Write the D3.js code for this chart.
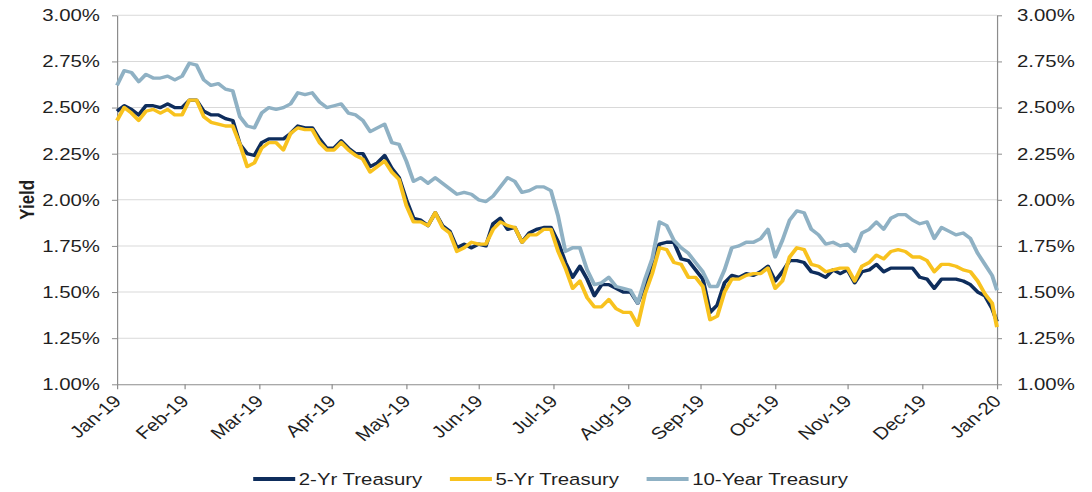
<!DOCTYPE html>
<html>
<head>
<meta charset="utf-8">
<script src="https://cdn.jsdelivr.net/npm/d3@7"></script>
<style>
  body { margin: 0; background: #fff; }
  text { font-family: "Liberation Sans", Arial, sans-serif; fill: #1f1f1f; }
</style>
</head>
<body>
<div id="chart"></div>
<script>
// sampled every few days from the picture
var dates = [
  "2019-01-31","2019-02-03","2019-02-06","2019-02-09","2019-02-12","2019-02-15","2019-02-18","2019-02-21","2019-02-24","2019-02-27",
  "2019-03-02","2019-03-05","2019-03-08","2019-03-11","2019-03-14","2019-03-17","2019-03-20","2019-03-23","2019-03-26","2019-03-29",
  "2019-04-01","2019-04-04","2019-04-07","2019-04-10","2019-04-13","2019-04-16","2019-04-19","2019-04-22","2019-04-25","2019-04-28",
  "2019-05-01","2019-05-04","2019-05-07","2019-05-10","2019-05-13","2019-05-16","2019-05-19","2019-05-22","2019-05-25","2019-05-28",
  "2019-05-31","2019-06-03","2019-06-06","2019-06-09","2019-06-12","2019-06-15","2019-06-18","2019-06-21","2019-06-24","2019-06-27",
  "2019-06-30","2019-07-03","2019-07-06","2019-07-09","2019-07-12","2019-07-15","2019-07-18","2019-07-21","2019-07-24","2019-07-27",
  "2019-07-30","2019-08-02","2019-08-05","2019-08-08","2019-08-11","2019-08-14","2019-08-17","2019-08-20","2019-08-23","2019-08-26",
  "2019-08-29","2019-09-01","2019-09-04","2019-09-07","2019-09-10","2019-09-13","2019-09-16","2019-09-19","2019-09-22","2019-09-25",
  "2019-09-28","2019-10-01","2019-10-04","2019-10-07","2019-10-10","2019-10-13","2019-10-16","2019-10-19","2019-10-22","2019-10-25",
  "2019-10-28","2019-10-31","2019-11-03","2019-11-06","2019-11-09","2019-11-12","2019-11-15","2019-11-18","2019-11-21","2019-11-24",
  "2019-11-27","2019-11-30","2019-12-03","2019-12-06","2019-12-09","2019-12-12","2019-12-15","2019-12-18","2019-12-21","2019-12-24",
  "2019-12-27","2019-12-30","2020-01-02","2020-01-05","2020-01-08","2020-01-11","2020-01-14","2020-01-17","2020-01-20","2020-01-23",
  "2020-01-26","2020-01-29","2020-01-31"
];

var twoYr = [
  2.48, 2.51, 2.49, 2.46, 2.51, 2.51, 2.50, 2.52, 2.50, 2.50,
  2.54, 2.54, 2.48, 2.46, 2.46, 2.44, 2.43, 2.30, 2.25, 2.24,
  2.31, 2.33, 2.33, 2.33, 2.36, 2.40, 2.39, 2.39, 2.33, 2.28,
  2.28, 2.32, 2.28, 2.25, 2.25, 2.18, 2.20, 2.24, 2.17, 2.12,
  2.00, 1.90, 1.89, 1.86, 1.93, 1.86, 1.83, 1.74, 1.76, 1.74,
  1.76, 1.75, 1.87, 1.90, 1.84, 1.85, 1.77, 1.82, 1.84, 1.85,
  1.85, 1.77, 1.66, 1.58, 1.64, 1.57, 1.48, 1.54, 1.54, 1.52,
  1.50, 1.50, 1.44, 1.54, 1.65, 1.76, 1.77, 1.77, 1.68, 1.67,
  1.62, 1.57, 1.39, 1.43, 1.55, 1.59, 1.58, 1.60, 1.59, 1.61,
  1.64, 1.56, 1.61, 1.67, 1.67, 1.66, 1.61, 1.60, 1.58, 1.62,
  1.60, 1.62, 1.55, 1.61, 1.62, 1.65, 1.61, 1.63, 1.63, 1.63,
  1.63, 1.58, 1.57, 1.52, 1.57, 1.57, 1.57, 1.56, 1.54, 1.50,
  1.48, 1.41, 1.34
];

var fiveYr = [
  2.43, 2.50, 2.47, 2.43, 2.48, 2.49, 2.47, 2.49, 2.46, 2.46,
  2.54, 2.54, 2.45, 2.42, 2.41, 2.40, 2.40, 2.30, 2.18, 2.20,
  2.28, 2.31, 2.31, 2.27, 2.36, 2.39, 2.38, 2.38, 2.31, 2.27,
  2.27, 2.31, 2.27, 2.24, 2.22, 2.15, 2.18, 2.21, 2.15, 2.11,
  1.97, 1.88, 1.88, 1.86, 1.93, 1.85, 1.82, 1.72, 1.74, 1.77,
  1.76, 1.76, 1.84, 1.88, 1.86, 1.85, 1.77, 1.81, 1.81, 1.84,
  1.84, 1.72, 1.63, 1.52, 1.56, 1.47, 1.42, 1.42, 1.46, 1.41,
  1.39, 1.39, 1.32, 1.49, 1.60, 1.74, 1.73, 1.66, 1.65, 1.58,
  1.58, 1.53, 1.35, 1.37, 1.50, 1.57, 1.57, 1.59, 1.60, 1.60,
  1.63, 1.52, 1.56, 1.69, 1.74, 1.73, 1.65, 1.64, 1.61, 1.62,
  1.63, 1.63, 1.56, 1.64, 1.66, 1.70, 1.68, 1.72, 1.73, 1.72,
  1.69, 1.69, 1.67, 1.61, 1.65, 1.65, 1.64, 1.62, 1.61, 1.56,
  1.49, 1.44, 1.31
];

var tenYr = [
  2.62, 2.70, 2.69, 2.64, 2.68, 2.66, 2.66, 2.67, 2.65, 2.67,
  2.74, 2.73, 2.65, 2.62, 2.63, 2.60, 2.59, 2.45, 2.40, 2.39,
  2.47, 2.50, 2.49, 2.50, 2.52, 2.58, 2.57, 2.58, 2.53, 2.50,
  2.51, 2.52, 2.47, 2.46, 2.43, 2.37, 2.39, 2.41, 2.31, 2.30,
  2.21, 2.10, 2.12, 2.09, 2.12, 2.09, 2.06, 2.03, 2.04, 2.03,
  2.00, 1.99, 2.02, 2.07, 2.12, 2.10, 2.04, 2.05, 2.07, 2.07,
  2.05, 1.91, 1.72, 1.74, 1.74, 1.62, 1.54, 1.55, 1.58, 1.53,
  1.52, 1.51, 1.44, 1.57, 1.68, 1.88, 1.86, 1.78, 1.74, 1.71,
  1.66, 1.61, 1.53, 1.53, 1.62, 1.74, 1.75, 1.77, 1.77, 1.79,
  1.84, 1.69, 1.78, 1.89, 1.94, 1.93, 1.84, 1.81, 1.76, 1.77,
  1.75, 1.76, 1.72, 1.82, 1.84, 1.88, 1.84, 1.90, 1.92, 1.92,
  1.89, 1.87, 1.88, 1.79, 1.85, 1.83, 1.81, 1.82, 1.79, 1.71,
  1.65, 1.59, 1.51
];

var seriesNames = ["2-Yr Treasury", "5-Yr Treasury", "10-Year Treasury"];
var seriesColors = ["#0e2d5c", "#f8c21e", "#8fb1c4"];
var yTicks = [1.00, 1.25, 1.50, 1.75, 2.00, 2.25, 2.50, 2.75, 3.00];
var xStart = "2019-01-31", xEnd = "2020-01-31";

// the reference picture is stretched sideways, so draw narrow and scale x
var stretch = 1.2;
var width = 1092 / stretch;
var height = 492;
var margin = { top: 15.3, right: 79.2, bottom: 107.7, left: 97.5 };
var fontSize = "17px";

var parseDate = d3.timeParse("%Y-%m-%d");

var svg = d3.select("#chart")
    .append("svg")
    .attr("width", 1092)
    .attr("height", height);

var g = svg.append("g")
    .attr("transform", "scale(" + stretch + ",1)");

var x = d3.scaleTime()
    .domain([parseDate(xStart), parseDate(xEnd)])
    .range([margin.left, width - margin.right]);

var y = d3.scaleLinear()
    .domain([1, 3])
    .range([height - margin.bottom, margin.top]);

// ticks sit on month ends
var monthEnds = d3.timeMonth.range(d3.timeDay.offset(parseDate(xStart), 1), d3.timeDay.offset(parseDate(xEnd), 2))
    .map(function(d) { return d3.timeDay.offset(d, -1); });

// gridlines
g.append("g")
    .selectAll("line")
    .data(yTicks.slice(1))
    .enter().append("line")
    .attr("x1", x.range()[0])
    .attr("x2", x.range()[1])
    .attr("y1", function(d) { return y(d); })
    .attr("y2", function(d) { return y(d); })
    .attr("stroke", "#d9d9d9")
    .attr("stroke-width", 1);

var pctFormat = function(d) { return d3.format(".2%")(d / 100); };

function styleAxis(sel) {
    sel.selectAll(".domain").attr("stroke", "#8c8c8c");
    sel.selectAll(".tick line").attr("stroke", "#8c8c8c");
    sel.selectAll("text")
        .style("font-family", '"Liberation Sans", Arial, sans-serif')
        .style("font-size", fontSize)
        .attr("fill", "#1f1f1f");
}

var leftAxis = g.append("g")
    .attr("transform", "translate(" + x.range()[0] + ",0)")
    .call(d3.axisLeft(y).tickValues(yTicks).tickFormat(pctFormat)
        .tickSize(4.2).tickSizeOuter(0).tickPadding(10));
styleAxis(leftAxis);

var rightAxis = g.append("g")
    .attr("transform", "translate(" + x.range()[1] + ",0)")
    .call(d3.axisRight(y).tickValues(yTicks).tickFormat(pctFormat)
        .tickSize(4.2).tickSizeOuter(0).tickPadding(12.5));
styleAxis(rightAxis);

var bottomAxis = g.append("g")
    .attr("transform", "translate(0," + y(1) + ")")
    .call(d3.axisBottom(x).tickValues(monthEnds).tickFormat(d3.timeFormat("%b-%y"))
        .tickSize(5).tickSizeOuter(0));
styleAxis(bottomAxis);
bottomAxis.selectAll("text")
    .attr("x", 0)
    .attr("y", 0)
    .attr("dy", 0)
    .attr("text-anchor", "end")
    .attr("transform", "translate(4,18) rotate(-45)");

g.append("text")
    .text("Yield")
    .attr("transform", "translate(22.2," + y(2) + ") rotate(-90)")
    .attr("text-anchor", "middle")
    .attr("dy", "0.35em")
    .style("font-size", fontSize)
    .style("font-weight", "bold");

// series lines, drawn in legend order
var series = [twoYr, fiveYr, tenYr].map(function(values, i) {
    return {
        name: seriesNames[i],
        color: seriesColors[i],
        points: values.map(function(v, j) { return { date: parseDate(dates[j]), value: v }; })
    };
});

var line = d3.line()
    .x(function(d) { return x(d.date); })
    .y(function(d) { return y(d.value); });

g.append("g")
    .selectAll("path")
    .data(series)
    .enter().append("path")
    .attr("d", function(d) { return line(d.points); })
    .attr("fill", "none")
    .attr("stroke", function(d) { return d.color; })
    .attr("stroke-width", 3.3)
    .attr("stroke-linejoin", "round");

// legend
var legend = g.append("g").attr("transform", "translate(0,479)");
var legendX = 211;
series.forEach(function(s) {
    legend.append("line")
        .attr("x1", legendX)
        .attr("x2", legendX + 35)
        .attr("stroke", s.color)
        .attr("stroke-width", 3.8);
    var t = legend.append("text")
        .text(s.name)
        .attr("x", legendX + 38)
        .attr("dy", "0.35em")
        .style("font-size", fontSize);
    legendX += 38 + t.node().getComputedTextLength() + 23;
});
</script>
</body>
</html>
